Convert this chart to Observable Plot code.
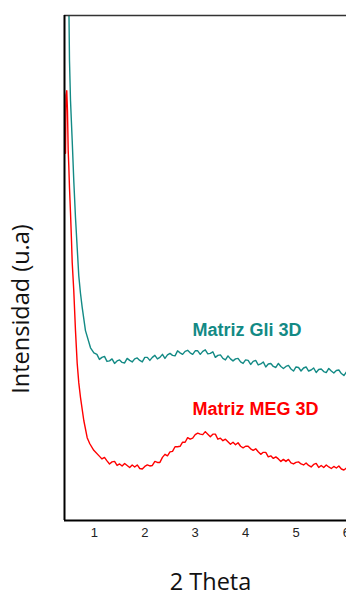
<!DOCTYPE html>
<html><head><meta charset="utf-8">
<script src="https://cdn.jsdelivr.net/npm/d3@7"></script>
<script src="https://cdn.jsdelivr.net/npm/@observablehq/plot@0.6"></script>
<style>html,body{margin:0;padding:0;background:#fff;overflow:hidden;} svg{max-width:none !important;}</style>
</head><body><div id="chart"></div>
<script>
// 2θ values and intensities (a.u.)
const thetaGli = [0.476,0.496,0.506,0.526,0.560,0.591,0.625,0.659,0.690,0.724,0.758,0.823,0.923,0.99,
1.05,1.10,1.15,1.20,1.25,1.30,1.35,1.40,1.45,1.50,1.55,1.60,1.65,1.70,1.75,1.80,1.85,1.90,1.95,2.00,
2.05,2.10,2.15,2.20,2.25,2.30,2.35,2.40,2.45,2.50,2.55,2.60,2.65,2.70,2.75,2.80,2.85,2.90,2.95,3.00,
3.05,3.10,3.15,3.20,3.25,3.30,3.35,3.40,3.45,3.50,3.55,3.60,3.65,3.70,3.75,3.80,3.85,3.90,3.95,4.00,
4.05,4.10,4.15,4.20,4.25,4.30,4.35,4.40,4.45,4.50,4.55,4.60,4.65,4.70,4.75,4.80,4.85,4.90,4.95,5.00,
5.05,5.10,5.15,5.20,5.25,5.30,5.35,5.40,5.45,5.50,5.55,5.60,5.65,5.70,5.75,5.80,5.85,5.90,5.95,6.00,
6.05,6.10];
const intGli = [1030,1000,911,832,752,673,600,540,485,450,422,376,342,332,
329,319,323,325,315,316,320,311,316,318,313,312,321,317,314,320,322,317,314,323,
323,317,323,327,320,323,329,321,328,331,327,326,336,332,329,335,337,332,329,336,
336,329,335,338,330,331,334,323,327,328,321,318,326,320,316,320,321,314,311,318,
317,309,315,317,308,310,314,304,310,311,305,303,311,305,301,305,307,300,296,304,
303,296,302,304,296,298,302,293,299,300,295,293,301,296,292,297,298,291,287,294,
294,286];

const thetaMeg = [0.427,0.437,0.452,0.466,0.480,0.492,0.506,0.526,0.546,0.560,0.591,0.625,0.659,0.690,0.724,0.790,0.857,0.909,0.988,1.121,
1.15,1.20,1.25,1.30,1.35,1.40,1.45,1.50,1.55,1.60,1.65,1.70,1.75,1.80,1.85,1.90,1.95,2.00,
2.05,2.10,2.15,2.20,2.25,2.30,2.35,2.40,2.45,2.50,2.55,2.60,2.65,2.70,2.75,2.80,2.85,2.90,2.95,3.00,
3.05,3.10,3.15,3.20,3.25,3.30,3.35,3.40,3.45,3.50,3.55,3.60,3.65,3.70,3.75,3.80,3.85,3.90,3.95,4.00,
4.05,4.10,4.15,4.20,4.25,4.30,4.35,4.40,4.45,4.50,4.55,4.60,4.65,4.70,4.75,4.80,4.85,4.90,4.95,5.00,
5.05,5.10,5.15,5.20,5.25,5.30,5.35,5.40,5.45,5.50,5.55,5.60,5.65,5.70,5.75,5.80,5.85,5.90,5.95,6.00,
6.05,6.10];
const intMeg = [727,842,851,812,733,703,659,610,554,511,455,376,311,273,244,198,164,152,139,125,
122,125,118,112,116,117,109,112,108,113,109,105,110,106,110,103,102,107,
110,108,109,117,115,115,125,131,128,136,137,146,146,147,155,155,164,161,163,170,
173,171,170,176,171,166,171,171,161,163,158,161,156,151,155,150,154,147,144,147,
147,142,139,142,136,131,135,135,126,128,123,126,122,117,121,117,121,114,112,115,
116,112,110,114,109,106,111,113,105,109,105,110,106,103,107,104,108,102,100,104,
105,101];

const xTicks = [1, 2, 3, 4, 5, 6];
const seriesNames = ["Matriz Gli 3D", "Matriz MEG 3D"];
const labelTheta = [2.946, 2.946];
const labelInt = [376, 221];
const xLabel = "2 Theta";
const yLabel = "Intensidad (u.a)";

const colors = ["#138a85", "#ff0000"];
const gli = thetaGli.map((t, i) => ({t, v: intGli[i]}));
const meg = thetaMeg.map((t, i) => ({t, v: intMeg[i]}));
const labels = seriesNames.map((s, i) => ({s, t: labelTheta[i], v: labelInt[i], c: colors[i]}));

const chart = Plot.plot({
  width: 356,
  height: 597,
  marginLeft: 64,
  marginRight: 0,
  marginTop: 15,
  marginBottom: 77,
  style: {fontFamily: "'Liberation Sans', Arial, sans-serif", background: "#fff", overflow: "visible", maxWidth: "none"},
  x: {domain: [0.407, 6.2]},
  y: {domain: [0, 1000]},
  marks: [
    Plot.line(gli, {x: "t", y: "v", stroke: colors[0], strokeWidth: 1.4, clip: true}),
    Plot.line(meg, {x: "t", y: "v", stroke: colors[1], strokeWidth: 1.4, clip: true}),
    Plot.ruleY([1000], {stroke: "#333", strokeWidth: 1.3}),
    Plot.ruleX([0.407], {stroke: "#000", strokeWidth: 2}),
    Plot.ruleY([0], {stroke: "#000", strokeWidth: 2}),
    Plot.axisX({ticks: xTicks, tickSize: 0, tickPadding: 7, fontSize: 13, label: null, tickFormat: d3.format("d"), fill: "#222"}),
    Plot.axisY({ticks: [], label: null}),
    Plot.text(labels, {x: "t", y: "v", text: "s", fill: "c", textAnchor: "start", fontSize: 18, fontWeight: "bold", fontFamily: "'Liberation Sans', Arial, sans-serif"}),
    Plot.text([xLabel], {frameAnchor: "bottom", textAnchor: "middle", lineAnchor: "bottom", dy: 69, fontSize: 23.5, fontFamily: "'Open Sans', sans-serif", fill: "#111"}),
    Plot.text([yLabel], {frameAnchor: "left", textAnchor: "middle", lineAnchor: "middle", rotate: -90, dx: -43, dy: 41, fontSize: 23.5, fontFamily: "'Open Sans', sans-serif", fill: "#111"})
  ]
});
document.getElementById("chart").appendChild(chart);
</script>
</body></html>
